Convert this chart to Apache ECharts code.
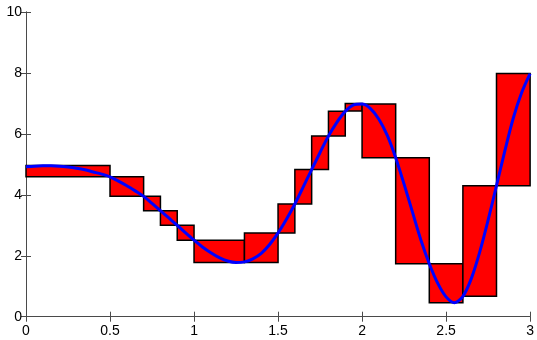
<!DOCTYPE html>
<html>
<head>
<meta charset="utf-8">
<script src="https://cdn.jsdelivr.net/npm/echarts@6/dist/echarts.min.js"></script>
<style>
html,body{margin:0;padding:0;background:#fff;}
#c{width:537px;height:340px;}
</style>
</head>
<body>
<div id="c"></div>
<script>
// Interval boxes: [start, end] on x, [low, high] on y
var boxStart = [0, 0.5, 0.7, 0.8, 0.9, 1.0, 1.3, 1.5, 1.6, 1.7, 1.8, 1.9, 2.0, 2.2, 2.4, 2.6, 2.8];
var boxEnd   = [0.5, 0.7, 0.8, 0.9, 1.0, 1.3, 1.5, 1.6, 1.7, 1.8, 1.9, 2.0, 2.2, 2.4, 2.6, 2.8, 3.0];
var boxLow   = [4.59, 3.95, 3.48, 3.00, 2.51, 1.78, 1.78, 2.75, 3.70, 4.83, 5.93, 6.75, 5.22, 1.74, 0.46, 0.67, 4.30];
var boxHigh  = [4.96, 4.59, 3.95, 3.48, 3.00, 2.51, 2.75, 3.70, 4.83, 5.93, 6.74, 7.00, 6.98, 5.22, 1.74, 4.30, 7.98];

// Curve samples
var curveX = [0,0.05,0.1,0.15,0.2,0.25,0.3,0.35,0.4,0.45,0.5,0.55,0.6,0.65,0.7,0.75,0.8,0.85,0.9,0.95,1.0,1.05,1.1,1.15,1.2,1.25,1.3,1.35,1.4,1.45,1.5,1.55,1.6,1.65,1.7,1.75,1.8,1.85,1.9,1.95,2.0,2.05,2.1,2.15,2.2,2.25,2.3,2.35,2.4,2.45,2.5,2.55,2.6,2.65,2.7,2.75,2.8,2.85,2.9,2.95,3.0];
var curveY = [4.92,4.94,4.95,4.95,4.94,4.91,4.87,4.82,4.75,4.68,4.59,4.45,4.30,4.13,3.95,3.72,3.48,3.24,3.00,2.75,2.51,2.29,2.10,1.94,1.83,1.78,1.80,1.90,2.08,2.37,2.75,3.20,3.70,4.26,4.83,5.39,5.93,6.38,6.74,6.95,6.98,6.83,6.48,5.95,5.22,4.35,3.43,2.52,1.74,1.10,0.65,0.46,0.67,1.25,2.12,3.17,4.30,5.45,6.52,7.36,7.98];

var xTicks = ['0','0.5','1','1.5','2','2.5','3'];
var yTicks = ['0','2','4','6','8','10'];

var boxData = boxStart.map(function(s, i){ return [s, boxEnd[i], boxLow[i], boxHigh[i]]; });
var curveData = curveX.map(function(x, i){ return [x, curveY[i]]; });

var axisColor = '#4a4a4a';
var font = 'Liberation Sans, Arial, Helvetica, sans-serif';

var chart = echarts.init(document.getElementById('c'), null, {renderer: 'canvas'});
chart.setOption({
  animation: false,
  backgroundColor: '#fff',
  grid: {left: 26, right: 4.5, top: 12, bottom: 23.3, containLabel: false},
  xAxis: [{
    type: 'value', min: 0, max: 3, interval: 0.5, position: 'bottom',
    axisLine: {show: true, lineStyle: {color: axisColor, width: 1}},
    axisTick: {show: true, inside: true, length: 5, lineStyle: {color: axisColor}},
    splitLine: {show: false},
    axisLabel: {color: '#000', fontSize: 14, fontFamily: font, margin: 7,
      formatter: function(v){ var i = Math.round(v/0.5); return xTicks[i] || ''; }}
  }, {
    type: 'value', min: 0, max: 3, interval: 0.5, position: 'top',
    axisLine: {show: true, lineStyle: {color: axisColor, width: 1}},
    axisTick: {show: true, inside: true, length: 5, lineStyle: {color: axisColor}},
    splitLine: {show: false},
    axisLabel: {show: false}
  }],
  yAxis: [{
    type: 'value', min: 0, max: 10, interval: 2, position: 'left',
    axisLine: {show: true, lineStyle: {color: axisColor, width: 1}},
    axisTick: {show: true, inside: true, length: 5, lineStyle: {color: axisColor}},
    splitLine: {show: false},
    axisLabel: {color: '#000', fontSize: 14, fontFamily: font, margin: 4,
      formatter: function(v){ var i = Math.round(v/2); return yTicks[i] || ''; }}
  }, {
    type: 'value', min: 0, max: 10, interval: 2, position: 'right',
    axisLine: {show: true, lineStyle: {color: axisColor, width: 1}},
    axisTick: {show: true, inside: true, length: 5, lineStyle: {color: axisColor}},
    splitLine: {show: false},
    axisLabel: {show: false}
  }],
  series: [{
    type: 'custom',
    xAxisIndex: 0, yAxisIndex: 0,
    data: boxData,
    encode: {x: [0, 1], y: [2, 3]},
    renderItem: function(params, api){
      var p0 = api.coord([api.value(0), api.value(3)]);
      var p1 = api.coord([api.value(1), api.value(2)]);
      return {
        type: 'rect',
        shape: {x: p0[0], y: p0[1], width: p1[0] - p0[0], height: p1[1] - p0[1]},
        style: {fill: '#ff0000', stroke: '#000', lineWidth: 1.5}
      };
    },
    z: 2
  }, {
    type: 'line',
    xAxisIndex: 0, yAxisIndex: 0,
    data: curveData,
    smooth: 0.3,
    showSymbol: false,
    lineStyle: {color: '#0000ff', width: 3},
    z: 3
  }]
});
</script>
</body>
</html>
